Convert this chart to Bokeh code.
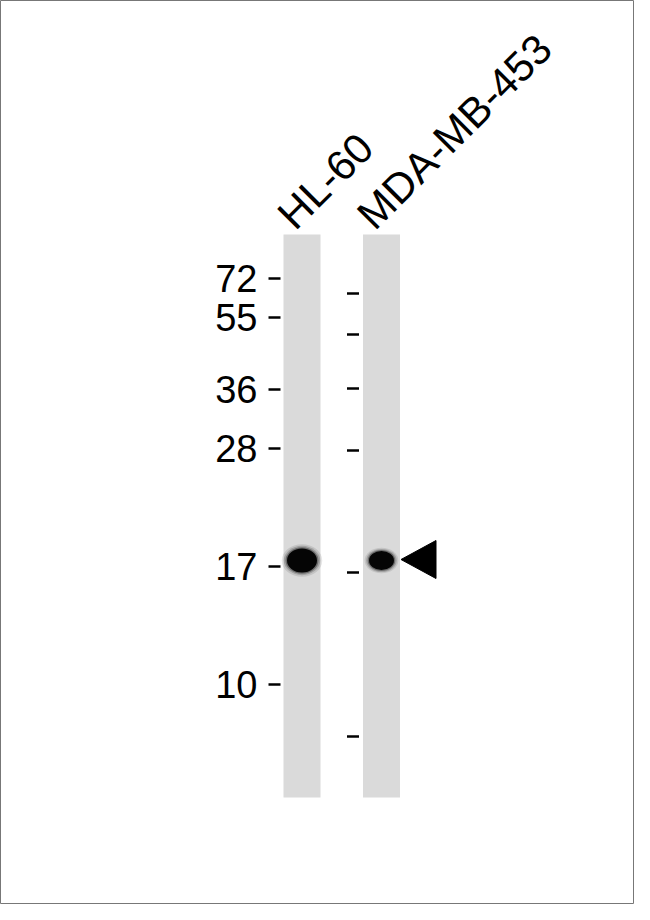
from bokeh.plotting import figure
from bokeh.models import Range1d
from bokeh.core.properties import value
from bokeh.embed import file_html
from bokeh.resources import INLINE

# ---- data ----
lane_names = ["HL-60", "MDA-MB-453"]
lane_centers = [301.5, 381.0]            # lane centre (image px)
marker_labels = ["72", "55", "36", "28", "17", "10"]
marker_pos_left = [278, 317, 389, 448, 566, 684]
marker_pos_right = [293, 334, 388, 450, 572, 736]
band_pos = [560, 560]                    # band centre (image px)
band_strength = [1.0, 0.8]               # relative band size
arrow_target = 559

# ---- figure: coordinates are image pixels ----
W, H = 634, 904
p = figure(width=W, height=H, output_backend="svg", toolbar_location=None,
           x_range=Range1d(0, W), y_range=Range1d(H, 0),
           min_border=0)
p.axis.visible = False
p.grid.visible = False
p.outline_line_color = "#777777"
p.outline_line_width = 1
p.background_fill_color = "white"
p.border_fill_color = "white"

font = value("Liberation Sans")

# lanes
lane_w = 37
p.quad(left=[c - lane_w / 2 for c in lane_centers],
       right=[c + lane_w / 2 for c in lane_centers],
       top=[234, 234], bottom=[797, 797],
       fill_color="#dadada", line_color=None)

# bands (soft edge through stacked ellipses)
bw0, bh0 = 30, 24
for scale, alpha in [(1.35, 0.10), (1.22, 0.18), (1.10, 0.35), (1.0, 1.0)]:
    p.ellipse(x=lane_centers, y=band_pos,
              width=[bw0 * s * scale * (1.04 if s < 1 else 1) for s in band_strength],
              height=[bh0 * (0.5 + 0.5 * s) * scale * (0.88 if s < 1 else 1) for s in band_strength],
              fill_color="#050505", fill_alpha=alpha, line_color=None)

# arrow head
ax = lane_centers[1] + lane_w / 2 + 1
p.patch(x=[ax, ax + 35, ax + 35], y=[arrow_target, arrow_target - 19, arrow_target + 19],
        fill_color="black", line_color="black", line_width=1)

# marker ticks
lx0 = lane_centers[0] - lane_w / 2
p.segment(x0=[lx0 - 15] * len(marker_pos_left), x1=[lx0 - 3] * len(marker_pos_left),
          y0=marker_pos_left, y1=marker_pos_left, line_color="black", line_width=2.5)
rx0 = lane_centers[1] - lane_w / 2
p.segment(x0=[rx0 - 16] * len(marker_pos_right), x1=[rx0 - 4] * len(marker_pos_right),
          y0=marker_pos_right, y1=marker_pos_right, line_color="black", line_width=2.5)

# marker labels
p.text(x=[lx0 - 26] * len(marker_labels), y=marker_pos_left,
       text=marker_labels, text_font=font, text_font_size="38px",
       text_align="right", text_baseline="middle", text_color="black")

# lane labels (rotated)
p.text(x=[c - 17 for c in lane_centers], y=[221, 221], text=lane_names,
       angle=45, angle_units="deg", text_font=font, text_font_size="42px",
       text_align="left", text_baseline="middle", text_color="black")

open("out.html", "w").write(file_html(p, INLINE))
